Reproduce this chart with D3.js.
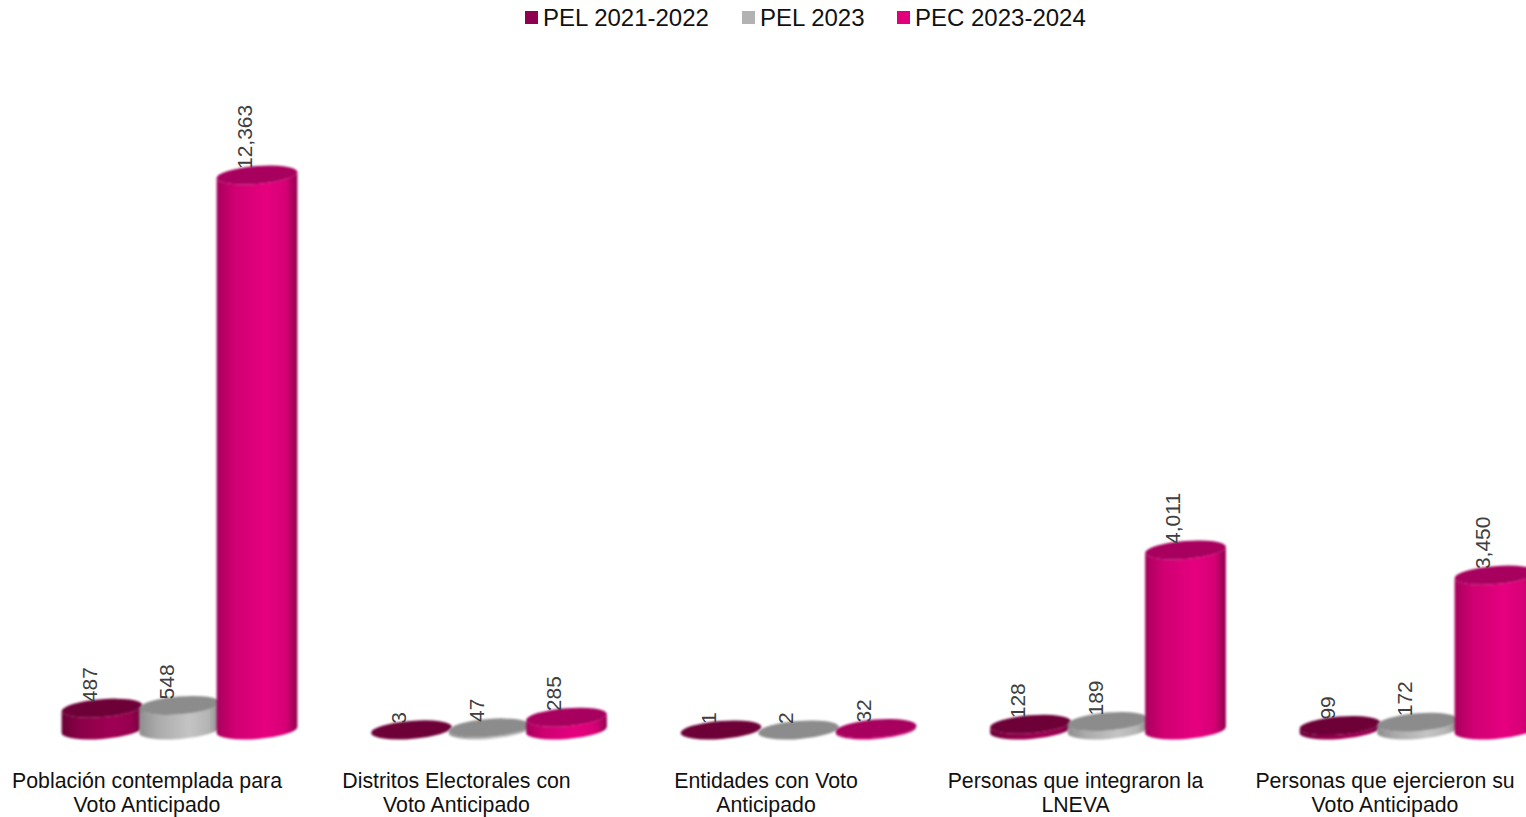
<!DOCTYPE html>
<html>
<head>
<meta charset="utf-8">
<script src="https://cdn.jsdelivr.net/npm/d3@7"></script>
<style>
    html, body { margin: 0; padding: 0; background: #fff; overflow: hidden; }
    text { font-family: "Liberation Sans", Arial, sans-serif; }
</style>
</head>
<body>
<svg id="chart" width="1526" height="817"></svg>
<script>
const categories = [
    ["Población contemplada para", "Voto Anticipado"],
    ["Distritos Electorales con", "Voto Anticipado"],
    ["Entidades con Voto", "Anticipado"],
    ["Personas que integraron la", "LNEVA"],
    ["Personas que ejercieron su", "Voto Anticipado"]
];
const seriesNames = ["PEL 2021-2022", "PEL 2023", "PEC 2023-2024"];
const pel2021 = [487, 3, 1, 128, 99];
const pel2023 = [548, 47, 2, 189, 172];
const pec2023 = [12363, 285, 32, 4011, 3450];
const seriesValues = [pel2021, pel2023, pec2023];

const legendColors = ["#8f0050", "#b2b2b2", "#e2007a"];
const topColors = ["#6e0039", "#8c8c8c", "#a8005f"];
const sideStops = [
    ["#6a0036", "#8a0047", "#a00054", "#96004f", "#6e0038"],
    ["#8e8e8e", "#aaaaaa", "#c4c4c4", "#b4b4b4", "#8a8a8a"],
    ["#a8005d", "#cf0072", "#e6007f", "#d60075", "#8c004c"]
];

const svg = d3.select("#chart");
const rx = 40.5, ry = 9, tilt = 4.5;
const depth = 32.5;
const dx = rx * Math.cos(tilt * Math.PI / 180);
const dy = rx * Math.sin(tilt * Math.PI / 180);

const x0 = d3.scaleBand()
    .domain(d3.range(categories.length))
    .range([-7.75, 1539.75]);

const x1 = d3.scaleBand()
    .domain(d3.range(seriesNames.length))
    .range([0, 232.5]);

const y = d3.scaleLinear()
    .domain([0, 12363])
    .range([730, 175]);

const defs = svg.append("defs");
sideStops.forEach(function(stops, i) {
    const grad = defs.append("linearGradient").attr("id", "side" + i);
    [0, 0.22, 0.62, 0.86, 1].forEach(function(o, j) {
        grad.append("stop").attr("offset", o).attr("stop-color", stops[j]);
    });
});
defs.append("filter").attr("id", "soft")
    .append("feGaussianBlur").attr("stdDeviation", 0.8);

function barX(c, s) {
    const groupCenter = x0(c) + x0.bandwidth() / 2 + depth;
    return groupCenter - 116.25 + x1(s) + x1.bandwidth() / 2;
}

function bodyPath(cx, yTop) {
    return `M${cx - dx},${yTop + dy} L${cx - dx},${y(0) + dy}`
        + ` A${rx},${ry} ${-tilt} 0 0 ${cx + dx},${y(0) - dy}`
        + ` L${cx + dx},${yTop - dy}`
        + ` A${rx},${ry} ${-tilt} 0 1 ${cx - dx},${yTop + dy} Z`;
}

// bars, series by series so the later ones sit over the earlier ones
const bars = svg.append("g");
seriesValues.forEach(function(values, s) {
    const g = bars.append("g").attr("filter", "url(#soft)");
    g.selectAll("path")
        .data(values)
        .enter()
        .append("path")
            .attr("d", function(d, c) { return bodyPath(barX(c, s), y(d)); })
            .attr("fill", "url(#side" + s + ")");
    g.selectAll("ellipse")
        .data(values)
        .enter()
        .append("ellipse")
            .attr("rx", rx)
            .attr("ry", ry)
            .attr("transform", function(d, c) {
                return `translate(${barX(c, s)},${y(d)}) rotate(${-tilt})`;
            })
            .attr("fill", topColors[s]);
});

// value labels
const fmt = d3.format(",");
seriesValues.forEach(function(values, s) {
    svg.append("g").selectAll("text")
        .data(values)
        .enter()
        .append("text")
            .attr("transform", function(d, c) {
                return `translate(${barX(c, s) - 5.5},${y(d) - 6}) rotate(-90)`;
            })
            .attr("font-size", 21)
            .attr("fill", "#404040")
            .text(function(d) { return fmt(d); });
});

// category axis
const axis = svg.append("g")
    .attr("transform", "translate(0,770)")
    .call(d3.axisBottom(x0).tickSize(0).tickFormat(""));
axis.select(".domain").remove();
axis.selectAll(".tick text")
    .attr("y", 0).attr("dy", 0)
    .attr("font-size", 21.3)
    .attr("fill", "#111")
    .each(function(c) {
        const t = d3.select(this);
        categories[c].forEach(function(line, i) {
            t.append("tspan")
                .attr("x", 0)
                .attr("y", 18 + i * 24)
                .text(line);
        });
    });

// legend
const legendX = [525, 742, 897];
const legend = svg.append("g");
seriesNames.forEach(function(name, i) {
    legend.append("rect")
        .attr("x", legendX[i]).attr("y", 11)
        .attr("width", 13).attr("height", 13)
        .attr("fill", legendColors[i]);
    legend.append("text")
        .attr("x", legendX[i] + 18).attr("y", 26)
        .attr("font-size", 24)
        .attr("fill", "#111")
        .text(name);
});
</script>
</body>
</html>
